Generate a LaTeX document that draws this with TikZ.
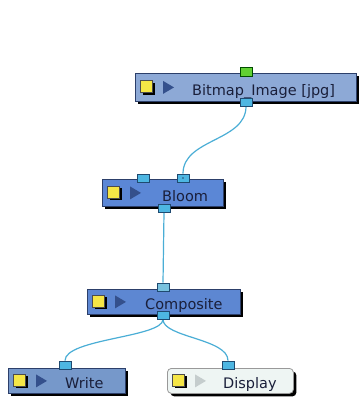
\documentclass[tikz,border=0pt]{standalone}
\usepackage{fontspec}
\setmainfont{DejaVu Sans}
\usetikzlibrary{shadows,backgrounds}
\definecolor{wirec}{HTML}{4AAED6}
\definecolor{portc}{HTML}{4DB6E2}
\definecolor{portline}{HTML}{1F4A70}
\definecolor{txtc}{HTML}{1A1F3A}
\definecolor{bmfill}{HTML}{8DA9D6}
\definecolor{blfill}{HTML}{5B87D6}
\definecolor{cofill}{HTML}{5D87D2}
\definecolor{wrfill}{HTML}{7698CA}
\definecolor{dsfill}{HTML}{EEF5F3}
\definecolor{boxline}{HTML}{2C3F6A}
\definecolor{triblue}{HTML}{34508C}
\definecolor{trigrey}{HTML}{C5CDCD}
\definecolor{yel}{HTML}{F5E646}
\tikzset{
  nbox/.style={draw=boxline, line width=0.8pt, anchor=north west, inner sep=0pt,
     drop shadow={shadow xshift=3pt, shadow yshift=-3pt, opacity=1, fill=black}},
  port/.style={draw=portline, line width=0.8pt, fill=portc, minimum width=12pt, minimum height=8pt, inner sep=0pt},
  ysq/.style={draw=black!70, line width=0.5pt, fill=yel, minimum size=12pt, inner sep=0pt,
     drop shadow={shadow xshift=2.5pt, shadow yshift=-2.5pt, opacity=1, fill=black}},
  lbl/.style={anchor=base west, inner sep=0pt, text=txtc, font=\fontsize{14.5pt}{16pt}\selectfont},
  wire/.style={draw=wirec, line width=1.2pt},
}
\begin{document}
\begin{tikzpicture}[x=1pt,y=-1pt]
\useasboundingbox (0,0) rectangle (359,398);
% boxes
\node[nbox, fill=bmfill, minimum width=221pt, minimum height=28pt] (bm) at (135,73) {};
\node[nbox, fill=blfill, minimum width=121pt, minimum height=27pt] (bl) at (102,179) {};
\node[nbox, fill=cofill, minimum width=153pt, minimum height=25pt] (co) at (87,289) {};
\node[nbox, fill=wrfill, minimum width=117pt, minimum height=25pt] (wr) at (8,368) {};
\node[nbox, fill=dsfill, draw=black!40, rounded corners=4pt, minimum width=126pt, minimum height=25pt] (ds) at (167,368) {};
% yellow squares
\foreach \b in {bm,bl,co,wr,ds}{
  \node[ysq] (\b-sq) at ([xshift=11pt,yshift=1pt]\b.west) {};
}
% triangles
\foreach \b in {bm,bl,co,wr}{
  \fill[triblue] ([xshift=28pt,yshift=6.5pt]\b.west) -- ([xshift=39pt]\b.west) -- ([xshift=28pt,yshift=-6.5pt]\b.west) -- cycle;
}
\fill[trigrey] ([xshift=28pt,yshift=6.5pt]ds.west) -- ([xshift=39pt]ds.west) -- ([xshift=28pt,yshift=-6.5pt]ds.west) -- cycle;
% labels
\node[lbl] (bm-t) at ([xshift=57pt,yshift=-8pt]bm.west) {Bitmap\_Image [jpg]};
\node[lbl] (bl-t) at ([xshift=60pt,yshift=-8.5pt]bl.west) {Bloom};
\node[lbl] (co-t) at ([xshift=58pt,yshift=-8pt]co.west) {Composite};
\node[lbl] (wr-t) at ([xshift=57pt,yshift=-8pt]wr.west) {Write};
\node[lbl] (ds-t) at ([xshift=56pt,yshift=-8pt]ds.west) {Display};
% ports
\node[port, fill=green!55!olive!80, draw=green!30!black, minimum height=9pt] (bm-in) at (246,72) {};
\node[port] (bm-out) at (246,102) {};
\node[port] (bl-in1) at (143,178) {};
\node[port] (bl-in2) at (183,178) {};
\fill[portline] (bl-in2.center) circle (0.9pt);
\node[port] (bl-out) at (164,208) {};
\node[port, fill=cyan!60!teal!60] (co-in) at (163,287) {};
\node[port] (co-out) at (163,315) {};
\node[port] (wr-in) at (65,365) {};
\node[port] (ds-in) at (228,365) {};
% wires
\begin{scope}[on background layer]
\fill[white] (0,0) rectangle (359,398);
\draw[wire] (bm-out.south) .. controls +(0,35) and +(0,-35) .. (bl-in2.north);
\draw[wire] (bl-out.south) -- (co-in.north);
\draw[wire] (co-out.south) .. controls +(0,18) and +(0,-22) .. (wr-in.north);
\draw[wire] (co-out.south) .. controls +(0,18) and +(0,-22) .. (ds-in.north);
\end{scope}
\end{tikzpicture}
\end{document}
